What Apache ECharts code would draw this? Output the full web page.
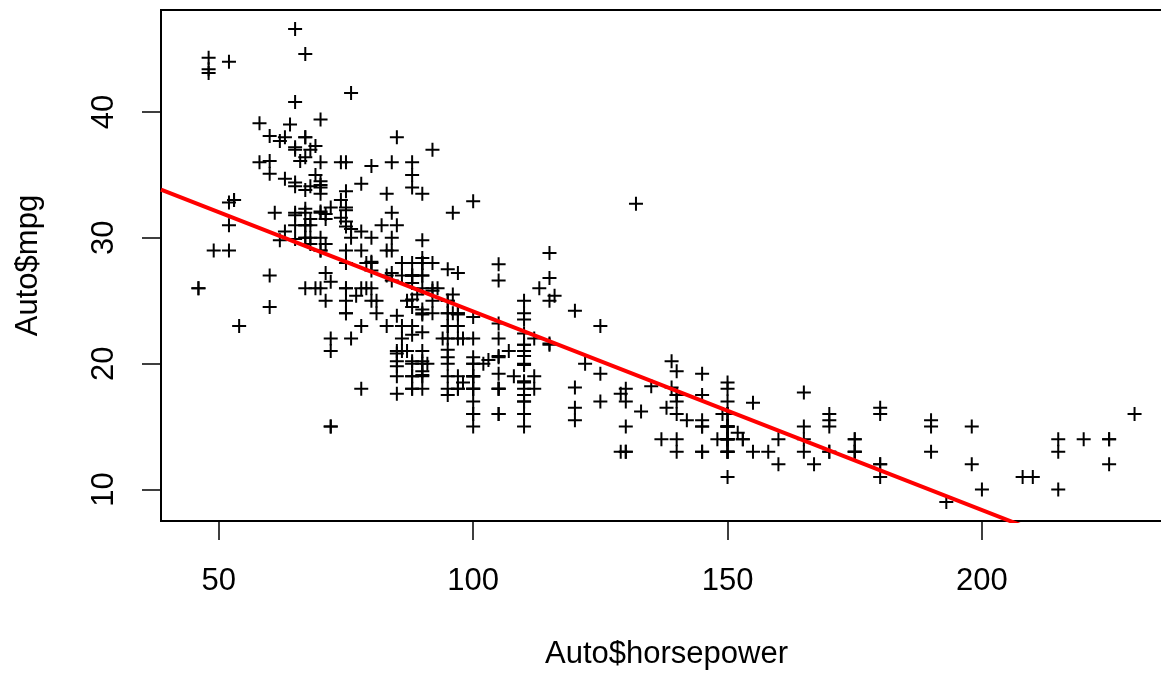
<!DOCTYPE html>
<html>
<head>
<meta charset="utf-8">
<title>Auto$mpg vs Auto$horsepower</title>
<script src="https://cdn.jsdelivr.net/npm/echarts@6/dist/echarts.min.js"></script>
<style>
html, body {
  margin: 0;
  padding: 0;
  background: #fff;
}
#main {
  width: 1161px;
  height: 675px;
}
</style>
</head>
<body>
<div id="main"></div>
<script>
// Auto data (392 complete rows), horsepower and mpg in the same order
const horsepower = [
  130, 165, 150, 150, 140, 198, 220, 215, 225, 190, 170, 160, 150, 225,
  95, 95, 97, 85, 88, 46, 87, 90, 95, 113, 90, 215, 200, 210, 193, 88, 90, 95,
  100, 105, 100, 88, 100, 165, 175, 153, 150, 180, 170, 175,
  110, 72, 100, 88, 86, 90, 70, 76, 65, 69, 60, 70, 95, 80, 54, 90, 86,
  165, 175, 150, 153, 150, 208, 155, 160, 190, 97, 150, 130, 140, 150,
  112, 76, 87, 69, 86, 92, 97, 80, 88,
  175, 150, 145, 137, 150, 198, 150, 158, 150, 215, 225, 175,
  105, 100, 100, 88, 95, 46,
  150, 167, 170, 180,
  100, 88, 72, 94, 90, 85, 107, 90,
  145, 230, 49, 75, 91, 112, 150, 110, 122, 180, 95,
  100, 100, 67, 80, 65, 75, 100, 110, 105,
  140, 150, 150, 140, 150,
  83, 67, 78, 52, 61, 75, 75, 75, 97, 93, 67,
  95, 105, 72, 72, 170, 145, 150, 148, 110, 105, 110, 95, 110, 110,
  129, 75, 83, 100, 78, 96, 71, 97, 97, 70, 90, 95, 88, 98, 115, 53, 86, 81, 92, 79, 83,
  140, 150, 120, 152, 100, 105, 81, 90, 52, 60, 70, 53,
  100, 78, 110, 95, 71, 70, 75, 72, 102, 150, 88, 108, 120, 180, 145, 130, 150,
  68, 80, 58, 96, 70, 145, 110, 145, 130, 110, 105, 100, 98, 180, 170, 190, 149,
  78, 88, 75, 89, 63, 83, 67, 78, 97, 110, 110,
  48, 66, 52, 70, 60, 110, 140, 139, 105, 95, 85, 88, 100, 90, 105, 85, 110, 120, 145, 165, 139, 140,
  68, 95, 97, 75, 95, 105, 85, 97, 103, 125, 115, 133, 71, 68, 115, 85, 88, 90, 110, 130, 129, 138, 135, 155, 142, 125, 150,
  71, 65, 80, 80, 77, 125, 71, 90, 70, 70, 65, 69, 90, 115, 115, 90, 76, 60, 70, 65, 90, 88, 90, 90, 78, 90, 75, 92, 75, 65, 105, 65, 48, 48, 67, 67, 67,
  67, 62, 132, 100, 88,
  72, 84, 84, 92, 110, 84, 58, 64, 60, 67, 65, 62, 68, 63, 65, 65, 74,
  75, 75, 100, 74, 80, 76, 116, 120, 110, 105, 88, 85, 88, 88, 88, 85, 84, 90, 92,
  74, 68, 68, 63, 70, 88, 75, 70, 67, 67, 67, 110, 85, 92, 112, 96, 84, 90, 86, 52, 84, 79, 82
]
const mpg = [
  18, 15, 18, 16, 17, 15, 14, 14, 14, 15, 15, 14, 15, 14,
  24, 22, 18, 21, 27, 26, 25, 24, 25, 26, 21, 10, 10, 11, 9, 27, 28, 25,
  19, 16, 17, 19, 18, 14, 14, 14, 14, 12, 13, 13,
  18, 22, 19, 18, 23, 28, 30, 30, 31, 35, 27, 26, 24, 25, 23, 20, 21,
  13, 14, 15, 14, 17, 11, 13, 12, 13, 19, 15, 13, 13, 14,
  18, 22, 21, 26, 22, 28, 23, 28, 27,
  13, 14, 13, 14, 15, 12, 13, 13, 14, 13, 12, 13,
  18, 16, 18, 18, 23, 26,
  11, 12, 13, 12,
  18, 20, 21, 22, 18, 19, 21, 26,
  15, 16, 29, 24, 20, 19, 15, 24, 20, 11, 20,
  19, 15, 31, 26, 32, 25, 16, 16, 18,
  16, 13, 14, 14, 14,
  29, 26, 26, 31, 32, 28, 24, 26, 24, 26, 31,
  19, 18, 15, 15, 16, 15, 16, 14, 17, 16, 15, 18, 21, 20,
  13, 29, 23, 20, 23, 24, 25, 24, 18, 29, 19, 23, 23, 22, 25, 33, 28, 25, 25, 26, 27,
  17.5, 16, 15.5, 14.5, 22, 22, 24, 22.5, 29, 24.5, 29, 33,
  20, 18, 18.5, 17.5, 29.5, 32, 28, 26.5, 20, 13, 19, 19, 16.5, 16.5, 13, 13, 13,
  31.5, 30, 36, 25.5, 33.5, 17.5, 17, 15.5, 15, 17.5, 20.5, 19, 18.5, 16, 15.5, 15.5, 16,
  29, 24.5, 26, 25.5, 30.5, 33.5, 30, 30.5, 22, 21.5, 21.5,
  43.1, 36.1, 32.8, 39.4, 36.1, 19.9, 19.4, 20.2, 19.2, 20.5, 20.2, 25.1, 20.5, 19.4, 20.6, 20.8, 18.6, 18.1, 19.2, 17.7, 18.1, 17.5,
  30, 27.5, 27.2, 30.9, 21.1, 23.2, 23.8, 23.9, 20.3, 17, 21.6, 16.2, 31.5, 29.5, 21.5, 19.8, 22.3, 20.2, 20.6, 17, 17.6, 16.5, 18.2, 16.9, 15.5, 19.2, 18.5,
  31.9, 34.1, 35.7, 27.4, 25.4, 23, 27.2, 23.9, 34.2, 34.5, 31.8, 37.3, 28.4, 28.8, 26.8, 33.5, 41.5, 38.1, 32.1, 37.2, 28, 26.4, 24.3, 19.1, 34.3, 29.8, 31.3, 37, 32.2, 46.6, 27.9, 40.8, 44.3, 43.4, 36.4, 30, 44.6,
  33.8, 29.8, 32.7, 23.7, 35,
  32.4, 27.2, 26.6, 25.8, 23.5, 30, 39.1, 39, 35.1, 32.3, 37, 37.7, 34.1, 34.7, 34.4, 29.9, 33,
  33.7, 32.4, 32.9, 31.6, 28.1, 30.7, 25.4, 24.2, 22.4, 26.6, 20.2, 17.6, 28, 27, 34, 31, 29, 27, 24,
  36, 37, 31, 38, 36, 36, 36, 34, 38, 32, 38, 25, 38, 26, 22, 32, 36, 27, 27, 44, 32, 28, 31
]

// tick labels
const xTicks = [50, 100, 150, 200]
const yTicks = [10, 20, 30, 40]

// lm(mpg ~ horsepower)
const fitIntercept = 39.9359
const fitSlope = -0.157845

// R pads the data range by 4% on each side
const xMin = 38.64
const xMax = 237.36
const yMin = 7.496
const yMax = 48.104

const points = horsepower.map((h, i) => [h, mpg[i]])
const fitLine = [xMin, xMax].map(x => [x, fitIntercept + fitSlope * x])

const plus = 'path://M6,0H8V6H14V8H8V14H6V8H0V6H6Z'
const font = 'Liberation Sans, Arial, Helvetica, sans-serif'

const chart = echarts.init(document.getElementById('main'), null, {
  width: 1161,
  height: 675
})

const option = {
  animation: false,
  backgroundColor: '#fff',
  textStyle: {
    fontFamily: font
  },
  // the plot box runs past the right edge of the picture
  grid: {
    left: 161,
    top: 10,
    width: 1011,
    height: 511,
    show: true,
    borderColor: '#000',
    borderWidth: 2,
    containLabel: false,
    outerBoundsMode: 'none'
  },
  xAxis: {
    type: 'value',
    min: xMin,
    max: xMax,
    name: 'Auto$horsepower',
    nameLocation: 'middle',
    nameGap: 118,
    nameTextStyle: {
      color: '#000',
      fontSize: 31,
      fontFamily: font
    },
    axisLine: {
      show: false
    },
    axisTick: {
      show: true,
      length: 19,
      customValues: xTicks,
      lineStyle: {
        color: '#000',
        width: 1.5
      }
    },
    axisLabel: {
      customValues: xTicks,
      color: '#000',
      fontSize: 31,
      fontFamily: font,
      margin: 45
    },
    splitLine: {
      show: false
    }
  },
  yAxis: {
    type: 'value',
    min: yMin,
    max: yMax,
    name: 'Auto$mpg',
    nameLocation: 'middle',
    nameRotate: 90,
    nameGap: 117,
    nameTextStyle: {
      color: '#000',
      fontSize: 31,
      fontFamily: font
    },
    axisLine: {
      show: false
    },
    axisTick: {
      show: true,
      length: 19,
      customValues: yTicks,
      lineStyle: {
        color: '#000',
        width: 1.5
      }
    },
    axisLabel: {
      customValues: yTicks,
      rotate: 90,
      color: '#000',
      fontSize: 31,
      fontFamily: font,
      margin: 41
    },
    splitLine: {
      show: false
    }
  },
  series: [{
    type: 'scatter',
    data: points,
    symbol: plus,
    symbolSize: 14,
    itemStyle: {
      color: '#000',
      opacity: 1
    },
    emphasis: {
      disabled: true
    },
    z: 2
  }, {
    type: 'line',
    data: fitLine,
    showSymbol: false,
    clip: true,
    lineStyle: {
      color: '#ff0000',
      width: 4
    },
    emphasis: {
      disabled: true
    },
    z: 3
  }]
}
chart.setOption(option)
</script>
</body>
</html>
